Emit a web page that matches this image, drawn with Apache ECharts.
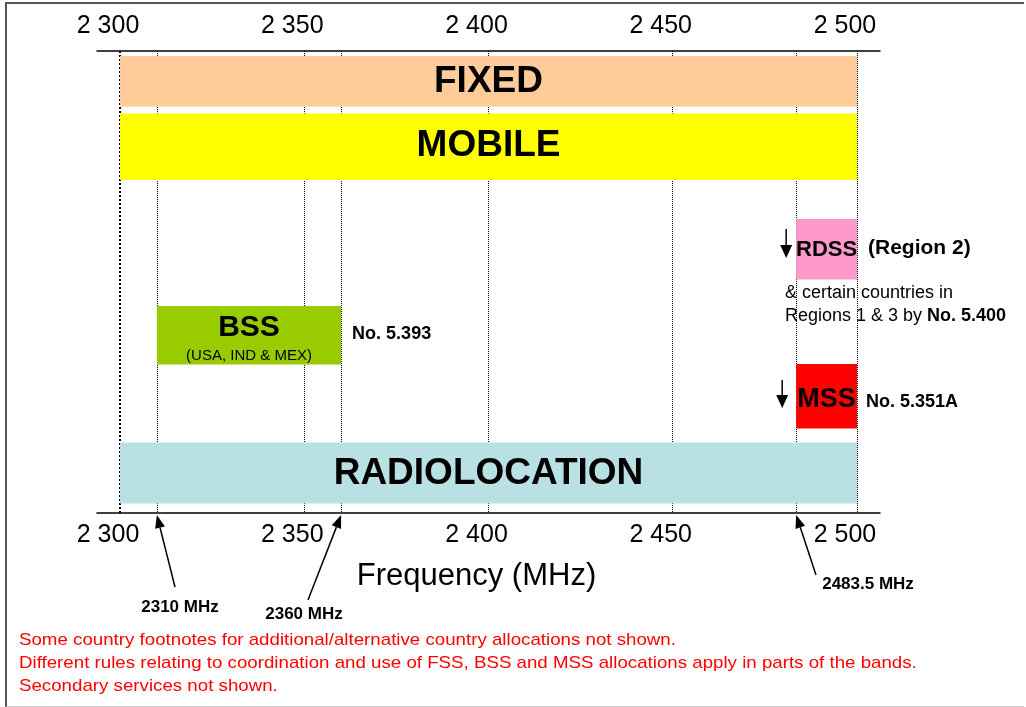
<!DOCTYPE html>
<html>
<head>
<meta charset="utf-8">
<script src="https://cdn.jsdelivr.net/npm/echarts@6/dist/echarts.min.js"></script>
<style>
html,body{margin:0;padding:0;background:#fff;overflow:hidden;}
#chart{width:1026px;height:707px;}
#frame{position:absolute;left:5px;top:2px;width:1019px;height:705px;box-sizing:border-box;
  border-left:2px solid #555;border-top:2px solid #555;border-bottom:1px solid #ccc;pointer-events:none;}
</style>
</head>
<body>
<div id="chart"></div>
<div id="frame"></div>
<script>
// band allocations, MHz
const services = ['FIXED', 'MOBILE', 'RDSS', 'BSS', 'MSS', 'RADIOLOCATION'];
const bandStart = [2300, 2300, 2483.5, 2310, 2483.5, 2300];
const bandEnd = [2500, 2500, 2500, 2360, 2500, 2500];
const tickValues = [2300, 2350, 2400, 2450, 2500];
const boundaries = [2300, 2310, 2350, 2360, 2400, 2450, 2483.5, 2500];
const edgeMarkers = [2310, 2360, 2483.5];
const footnotes = [
    'Some country footnotes for additional/alternative country allocations not shown.',
    'Different rules relating to coordination and use of FSS, BSS and MSS allocations apply in parts of the bands.',
    'Secondary services not shown.'
];

// layout only (vertical lanes in px below the top axis, colours, fonts)
const laneMax = 462;
const laneTop = [5, 62.5, 168, 255, 313, 391.5];
const laneBottom = [55.5, 129, 228.5, 313.5, 377.5, 452.5];
const laneColor = ['#FFCC99', '#FFFF00', '#FF99CC', '#99CC00', '#FF0000', '#B9E0E3'];
const laneFont = [37, 37, 22, 30, 27, 37];
const laneDy = [1, -1, 1, -8, 3, 1];
const markerTail = [[175, 587], [308, 600], [816, 575]];
const markerLabel = [[180, 607], [304, 614], [868, 584]];
const axisOverhang = 6.25;
const FONT = "'Liberation Sans', Arial, Helvetica, sans-serif";

const fmtFreq = v => String(v).replace(/^(\d)(\d{3})$/, '$1 $2');

function txt(x, y, text, size, opts, scaleX) {
    return {
        type: 'text', x: x, y: y, scaleX: scaleX || 1,
        style: Object.assign({
            text: text, fill: '#000', fontSize: size, fontFamily: FONT,
            align: 'left', verticalAlign: 'middle'
        }, opts || {})
    };
}

function downArrow(x, y0, y1) {
    return [
        {type: 'line', shape: {x1: x, y1: y0, x2: x, y2: y1 - 12}, style: {stroke: '#000', lineWidth: 1.5}},
        {type: 'polygon', shape: {points: [[x - 6, y1 - 13], [x + 6, y1 - 13], [x, y1]]}, style: {fill: '#000'}}
    ];
}

function renderBand(params, api) {
    const i = params.dataIndex;
    const p0 = api.coord([api.value(0), laneTop[i]]);
    const p1 = api.coord([api.value(1), laneBottom[i]]);
    const x = p0[0], y = p0[1], w = p1[0] - p0[0], h = p1[1] - p0[1];
    const cx = x + w / 2, cy = y + h / 2;
    const name = services[i];
    let children = [
        {type: 'rect', shape: {x: x, y: y, width: w, height: h}, style: {fill: laneColor[i]}},
        txt(cx, cy + laneDy[i], name, laneFont[i], {align: 'center', fontWeight: 'bold'})
    ];
    if (name === 'BSS') {
        children.push(txt(cx, cy + 21, '(USA, IND & MEX)', 15, {align: 'center'}));
        children.push(txt(x + w + 11, cy - 1, 'No. 5.393', 18, {fontWeight: 'bold'}));
    }
    if (name === 'RDSS') {
        children.push(txt(x + w + 11, cy - 1, '(Region 2)', 21, {fontWeight: 'bold'}));
        children.push(txt(x + w - 72, y + h + 14, '& certain countries in', 18));
        children.push(txt(x + w - 72, y + h + 37, 'Regions 1 & 3 by {b|No. 5.400}', 18, {
            rich: {b: {fontWeight: 'bold', fontSize: 18, fontFamily: FONT, fill: '#000'}}
        }));
        children = children.concat(downArrow(x - 10, y + 10, y + 39));
    }
    if (name === 'MSS') {
        children.push(txt(x + w + 9, cy + 6, 'No. 5.351A', 18, {fontWeight: 'bold'}));
        children = children.concat(downArrow(x - 14, y + 16, y + 44));
    }
    return {type: 'group', children: children};
}

function renderMarker(params, api) {
    const i = params.dataIndex;
    const head = api.coord([api.value(0), laneMax]);
    head[1] += 2;
    const tail = markerTail[i];
    const ang = Math.atan2(head[1] - tail[1], head[0] - tail[0]);
    const L = 13, W = 5;
    const bx = head[0] - L * Math.cos(ang), by = head[1] - L * Math.sin(ang);
    const px = -Math.sin(ang) * W, py = Math.cos(ang) * W;
    return {
        type: 'group',
        children: [
            {type: 'line', shape: {x1: tail[0], y1: tail[1], x2: bx, y2: by}, style: {stroke: '#000', lineWidth: 1.5}},
            {type: 'polygon', shape: {points: [head, [bx + px, by + py], [bx - px, by - py]]}, style: {fill: '#000'}},
            txt(markerLabel[i][0], markerLabel[i][1], api.value(0) + ' MHz', 17, {align: 'center', fontWeight: 'bold'})
        ]
    };
}

function freqAxis(position, margin) {
    return {
        type: 'value',
        position: position,
        min: 2300 - axisOverhang,
        max: 2500 + axisOverhang,
        axisLine: {show: true, onZero: false, lineStyle: {color: '#000', width: 1.5}},
        axisTick: {show: false},
        splitLine: {show: false},
        axisLabel: {
            customValues: tickValues,
            formatter: fmtFreq,
            fontSize: 25,
            color: '#000',
            fontFamily: FONT,
            margin: margin,
            padding: [0, 24, 0, 0]
        }
    };
}

const chart = echarts.init(document.getElementById('chart'));
const bottomAxis = freqAxis('bottom', 10);
bottomAxis.name = 'Frequency (MHz)';
bottomAxis.nameLocation = 'middle';
bottomAxis.nameGap = 48;
bottomAxis.nameTextStyle = {fontSize: 31, color: '#000', fontFamily: FONT, padding: [0, 24, 0, 0]};

chart.setOption({
    animation: false,
    backgroundColor: '#fff',
    textStyle: {fontFamily: FONT},
    grid: {left: 97, right: 146, top: 51, bottom: 194},
    xAxis: [bottomAxis, freqAxis('top', 12)],
    yAxis: {type: 'value', min: 0, max: laneMax, inverse: true, show: false},
    series: [
        {
            name: 'bands',
            type: 'custom',
            coordinateSystem: 'cartesian2d',
            z: 3,
            data: services.map((s, i) => [bandStart[i], bandEnd[i], i]),
            encode: {x: [0, 1], y: 2},
            renderItem: renderBand,
            markLine: {
                silent: true,
                z: 1,
                symbol: 'none',
                label: {show: false},
                lineStyle: {color: '#000', type: 'dotted', width: 1},
                data: boundaries.map((v, i) => ({
                    xAxis: v,
                    lineStyle: {width: i === 0 ? 2 : 1}
                }))
            }
        },
        {
            name: 'edges',
            type: 'custom',
            coordinateSystem: 'cartesian2d',
            z: 4,
            data: edgeMarkers.map(v => [v, laneMax]),
            encode: {x: 0, y: 1},
            renderItem: renderMarker
        }
    ],
    graphic: footnotes.map((t, i) => ({
        type: 'text',
        x: 19,
        y: 640 + i * 23,
        scaleX: 1.1,
        style: {text: t, fill: '#FF0000', fontSize: 17, fontFamily: FONT, verticalAlign: 'middle'}
    }))
});
</script>
</body>
</html>
